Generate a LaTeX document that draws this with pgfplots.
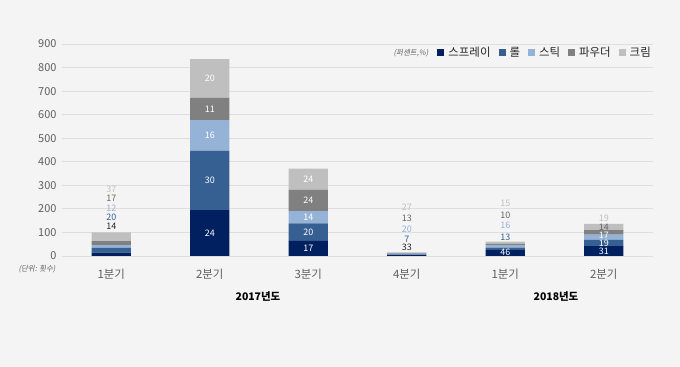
\documentclass[border=0pt]{standalone}
\usepackage{fontspec}
\setmainfont{Noto Sans CJK KR}
\newfontfamily\cjkit[FakeSlant=0.2]{Noto Sans CJK KR}
\usepackage{pgfplots}
\pgfplotsset{compat=1.18}
\usepackage{pgfplotstable}
\definecolor{bgc}{RGB}{244,244,244}
\definecolor{cspray}{RGB}{0,32,96}
\definecolor{croll}{RGB}{54,96,146}
\definecolor{cstick}{RGB}{149,179,215}
\definecolor{cpowder}{RGB}{128,128,128}
\definecolor{ccream}{RGB}{191,191,191}
\definecolor{gridc}{RGB}{222,222,222}
\definecolor{tickc}{RGB}{95,95,95}
\newcommand\lab{\fontsize{9}{10}\selectfont}

\pgfplotstableread{
x spray roll stick powder cream
0 14 20 12 17 37
1 195 251 131 94 165
2 64 75 52 90 90
3 5 1 3 2 4
4 28 8 10 6 9
5 42 26 23 19 26
}\bars

\pgfplotsset{base/.style={
  at={(62bp,111bp)}, anchor=south west,
  width=591bp, height=212bp, scale only axis,
  xmin=-0.5, xmax=5.5, ymin=0, ymax=900,
}}

\begin{document}
\begin{tikzpicture}
\fill[bgc] (0,0) rectangle (680bp,367bp);
\begin{axis}[base,
  ybar stacked, bar width=0.4,
  axis line style={draw=none},
  major tick length=0pt,
  ytick={0,100,...,900},
  ymajorgrids, grid style={gridc, line width=0.8pt},
  xtick={0,...,5},
  xticklabels={1분기,2분기,3분기,4분기,1분기,2분기},
  /pgf/number format/assume math mode=true,
  yticklabel style={font=\fontsize{11}{12}\selectfont, text=tickc, xshift=-2bp},
  xticklabel style={font=\fontsize{11.5}{13}\selectfont, text=tickc, yshift=-10bp},
  legend columns=-1,
  legend style={at={(1,0.958)}, anchor=east, draw=none, fill=none,
    font=\fontsize{11.5}{13}\selectfont, text=black!85,
    /tikz/every odd column/.append style={column sep=2bp},
    /tikz/every even column/.append style={column sep=6bp},
    inner sep=0pt},
  legend image code/.code={\fill[#1] (0bp,-3.5bp) rectangle (7bp,3.5bp);},
]
\addplot[fill=cspray, draw=none] table[x=x, y=spray] {\bars};
\addplot[fill=croll, draw=none] table[x=x, y=roll] {\bars};
\addplot[fill=cstick, draw=none] table[x=x, y=stick] {\bars};
\addplot[fill=cpowder, draw=none] table[x=x, y=powder] {\bars};
\addplot[fill=ccream, draw=none] table[x=x, y=cream] {\bars};
\legend{스프레이,롤,스틱,파우더,크림}
\end{axis}
\begin{axis}[base, axis lines=none, xtick=\empty, ytick=\empty,
  nodes near coords, point meta=explicit symbolic,
  nodes near coords style={anchor=center, font=\lab, inner sep=0pt, yshift=0pt}]
\addplot[draw=none, mark=none, nodes near coords style={text=white}] table[meta=l] {
x y l
1 97.5 24
1 320.5 30
1 511.5 16
1 624 11
1 753.5 20
2 32 17
2 101.5 20
2 165 14
2 236 24
2 326 24
4 17 46
5 21 31
5 55 19
5 89 17
};
\addplot[draw=none, mark=none, nodes near coords style={text=black!85}] table[meta=l] {
x y l
0 127 14
3 38 33
};
\addplot[draw=none, mark=none, nodes near coords style={text=croll}] table[meta=l] {
x y l
0 166 20
3 72 7
4 81 13
};
\addplot[draw=none, mark=none, nodes near coords style={text=cstick}] table[meta=l] {
x y l
0 204 12
3 115 20
4 132 16
};
\addplot[draw=none, mark=none, nodes near coords style={text=cpowder!80!black}] table[meta=l] {
x y l
0 246 17
3 161 13
4 174 10
5 123 14
};
\addplot[draw=none, mark=none, nodes near coords style={text=ccream}] table[meta=l] {
x y l
0 284 37
3 208 27
4 225 15
5 161 19
};
\end{axis}
\node[font=\cjkit\fontsize{7.5}{9}\selectfont, text=tickc] at (411bp,314bp) {(퍼센트,\%)};
\node[font=\cjkit\fontsize{7.5}{9}\selectfont, text=tickc] at (37bp,98bp) {(단위: 횟수)};
\node[font=\bfseries\fontsize{10.5}{12}\selectfont] at (258bp,70bp) {2017년도};
\node[font=\bfseries\fontsize{10.5}{12}\selectfont] at (556bp,70bp) {2018년도};
\end{tikzpicture}
\end{document}
